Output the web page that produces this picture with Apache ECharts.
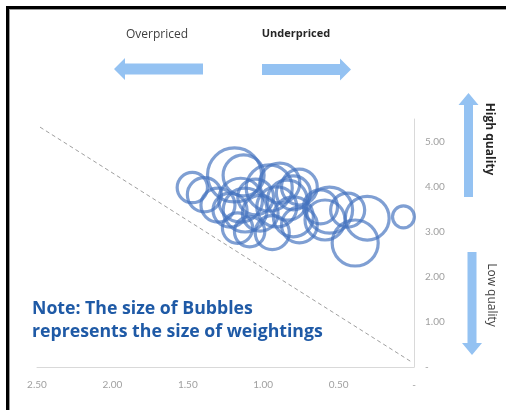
<!DOCTYPE html>
<html>
<head>
<meta charset="utf-8">
<script src="https://cdn.jsdelivr.net/npm/echarts@6/dist/echarts.min.js"></script>
<style>
  html, body { margin: 0; padding: 0; background: #fff; }
  #chart { width: 506px; height: 410px; }
</style>
</head>
<body>
<div id="chart"></div>
<script>
// Valuation score (x, reversed) vs quality score (y); bubble area = portfolio weight
const valuation = [1.47, 1.39, 1.19, 1.13, 1.15, 1.12, 1.05, 1.02, 0.96, 0.91, 0.89, 0.84, 0.80, 0.76,
                   1.22, 1.17, 1.09, 0.94, 0.62, 0.56, 0.44, 0.39, 0.31, 0.07, 0.59, 0.80,
                   0.76, 1.30];
const quality   = [3.98, 3.82, 4.26, 4.25, 3.70, 3.48, 3.77, 3.41, 3.97, 3.55, 4.08, 3.70, 3.33, 3.99,
                   3.48, 3.08, 3.00, 2.98, 3.55, 3.48, 3.48, 2.75, 3.30, 3.33, 3.26, 3.86,
                   3.15, 3.59];
const weights   = [2.3, 2.9, 7.3, 4.2, 4.8, 4.8, 3.2, 3.2, 5.3, 4.0, 4.0, 4.0, 4.0, 3.2,
                   2.9, 2.3, 2.3, 2.9, 2.9, 5.3, 2.9, 5.3, 4.8, 1.2, 4.0, 2.9,
                   3.2, 2.9];

// Reference diagonal
const diagX = [2.48, 0.02];
const diagY = [5.32, 0.12];

const xTicks = [0, 0.5, 1.0, 1.5, 2.0, 2.5];
const yTicks = [0, 1, 2, 3, 4, 5];

const bubbles = valuation.map((v, i) => [v, quality[i], weights[i]]);
const diag = diagX.map((v, i) => [v, diagY[i]]);

const fmt = v => (Math.abs(v) < 1e-9 ? '-' : v.toFixed(2));

const arrowBlue = '#94c2f2';
const axisFont = 'Lato, "Open Sans", sans-serif';
const textFont = '"Open Sans", Lato, sans-serif';

const chart = echarts.init(document.getElementById('chart'), null, { renderer: 'canvas' });

chart.setOption({
  animation: false,
  backgroundColor: '#ffffff',
  grid: { left: 37, right: 92, top: 119, bottom: 43, containLabel: false },
  xAxis: {
    type: 'value',
    inverse: true,
    min: xTicks[0],
    max: xTicks[xTicks.length - 1],
    interval: 0.5,
    splitLine: { show: false },
    axisTick: { show: false },
    axisLine: { show: true, lineStyle: { color: '#d9d9d9', width: 1 } },
    axisLabel: {
      color: '#a0a0a0', fontSize: 10, fontFamily: axisFont, margin: 13,
      formatter: fmt
    }
  },
  yAxis: {
    type: 'value',
    position: 'right',
    min: yTicks[0],
    max: 5.5,
    interval: 1,
    splitLine: { show: false },
    axisTick: { show: false },
    axisLine: { show: true, onZero: false, lineStyle: { color: '#d9d9d9', width: 1 } },
    axisLabel: {
      color: '#a0a0a0', fontSize: 10, fontFamily: axisFont, margin: 11,
      showMaxLabel: false,
      formatter: v => (yTicks.includes(v) ? fmt(v) : '')
    }
  },
  series: [
    {
      type: 'line',
      data: diag,
      symbol: 'none',
      silent: true,
      lineStyle: { color: '#a0a0a0', width: 1, type: [4, 3] },
      z: 1
    },
    {
      type: 'scatter',
      data: bubbles,
      symbol: 'circle',
      symbolSize: d => 20 * Math.sqrt(d[2]),
      itemStyle: {
        color: 'rgba(0,0,0,0)',
        borderColor: 'rgba(68,114,190,0.85)',
        borderWidth: 3.2
      },
      z: 2
    }
  ],
  graphic: [
    // frame
    { type: 'rect', shape: { x: 6, y: 6, width: 500, height: 3 }, style: { fill: '#000' } },
    { type: 'rect', shape: { x: 6, y: 6, width: 3, height: 404 }, style: { fill: '#000' } },
    { type: 'rect', shape: { x: 9, y: 9, width: 497, height: 1 }, style: { fill: '#9a9a9a' } },
    { type: 'rect', shape: { x: 9, y: 9, width: 1, height: 401 }, style: { fill: '#9a9a9a' } },

    // price direction arrows
    { type: 'polygon', shape: { points: [[114, 69], [125, 58], [125, 63.5], [203, 63.5], [203, 74.5], [125, 74.5], [125, 80]] },
      style: { fill: arrowBlue } },
    { type: 'polygon', shape: { points: [[262, 64], [340, 64], [340, 58.5], [351, 69.5], [340, 80.5], [340, 75], [262, 75]] },
      style: { fill: arrowBlue } },
    { type: 'text', x: 157, y: 35, style: { text: 'Overpriced', fill: '#404040', font: '12px ' + textFont, align: 'center', verticalAlign: 'middle' } },
    { type: 'text', x: 296, y: 34, style: { text: 'Underpriced', fill: '#262626', font: 'bold 11px ' + textFont, align: 'center', verticalAlign: 'middle' } },

    // quality direction arrows
    { type: 'polygon', shape: { points: [[468.5, 93], [478.5, 105], [473, 105], [473, 197], [464, 197], [464, 105], [458.5, 105]] },
      style: { fill: arrowBlue } },
    { type: 'polygon', shape: { points: [[467.5, 252], [476.5, 252], [476.5, 343], [482, 343], [472, 355], [462, 343], [467.5, 343]] },
      style: { fill: arrowBlue } },
    { type: 'text', x: 489, y: 139, rotation: -Math.PI / 2,
      style: { text: 'High quality', fill: '#262626', font: 'bold 12px ' + textFont, align: 'center', verticalAlign: 'middle' } },
    { type: 'text', x: 491, y: 295, rotation: -Math.PI / 2,
      style: { text: 'Low quality', fill: '#404040', font: '12px ' + textFont, align: 'center', verticalAlign: 'middle' } },

    // note
    { type: 'text', x: 32, y: 309,
      style: { text: 'Note: The size of Bubbles', fill: '#1f5aa6', font: 'bold 17.7px ' + textFont, align: 'left', verticalAlign: 'middle' } },
    { type: 'text', x: 32, y: 332,
      style: { text: 'represents the size of weightings', fill: '#1f5aa6', font: 'bold 17.7px ' + textFont, align: 'left', verticalAlign: 'middle' } }
  ]
});
</script>
</body>
</html>
